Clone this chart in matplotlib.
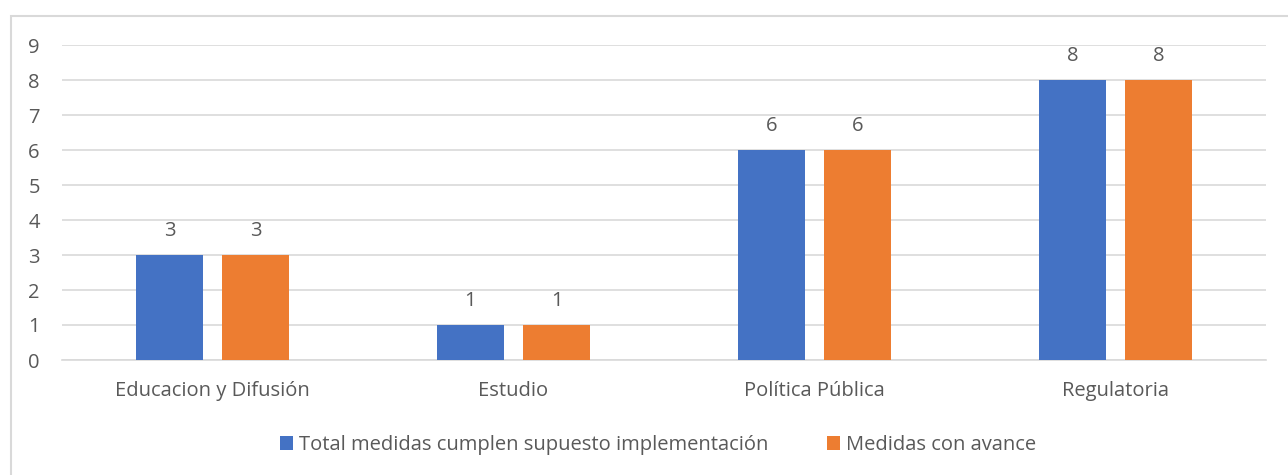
import matplotlib
matplotlib.use("Agg")
import matplotlib.pyplot as plt
import numpy as np

categorias = ["Educacion y Difusión", "Estudio", "Política Pública", "Regulatoria"]
total_medidas = [3, 1, 6, 8]
con_avance = [3, 1, 6, 8]
series = ["Total medidas cumplen supuesto implementación", "Medidas con avance"]

plt.rcParams['font.family'] = ['Open Sans', 'DejaVu Sans']
fs = 14.5
gris = "#595959"

fig = plt.figure(figsize=(12.88, 4.75), dpi=100)
ax = fig.add_axes([62 / 1288, 1 - 360 / 475, 1204 / 1288, 315 / 475])

x = np.arange(len(categorias))
w = 0.223
b1 = ax.bar(x - 0.143, total_medidas, w, color="#4472C4", label=series[0], zorder=3)
b2 = ax.bar(x + 0.143, con_avance, w, color="#ED7D31", label=series[1], zorder=3)
for bars in (b1, b2):
    ax.bar_label(bars, padding=10, fontsize=fs, color=gris)

ax.set_xlim(-0.5, len(categorias) - 0.5)
ax.set_ylim(0, 9)
ax.set_yticks(range(10))
ax.set_xticks(x)
ax.set_xticklabels(categorias)
ax.tick_params(axis='both', length=0, labelsize=fs, labelcolor=gris)
ax.tick_params(axis='x', pad=15)
ax.tick_params(axis='y', pad=16)
ax.grid(axis='y', color="#D9D9D9", linewidth=1.2, zorder=0)
for s in ["top", "right", "left"]:
    ax.spines[s].set_visible(False)
ax.spines["bottom"].set_color("#D9D9D9")
ax.spines["bottom"].set_linewidth(1.2)

fig.legend(loc="center", bbox_to_anchor=(658 / 1288, 1 - 445 / 475), ncol=2, frameon=False,
           fontsize=fs, handlelength=0.65, handleheight=0.65, handletextpad=0.3,
           columnspacing=2.9, labelcolor=gris)

# marco del grafico
fig.patches.append(plt.Rectangle((11 / 1288, -0.1), 1.2, 1 - 16 / 475 + 0.1,
                                 transform=fig.transFigure, fill=False,
                                 edgecolor="#D9D9D9", linewidth=1.5))

fig.savefig("out.png", dpi=100)
